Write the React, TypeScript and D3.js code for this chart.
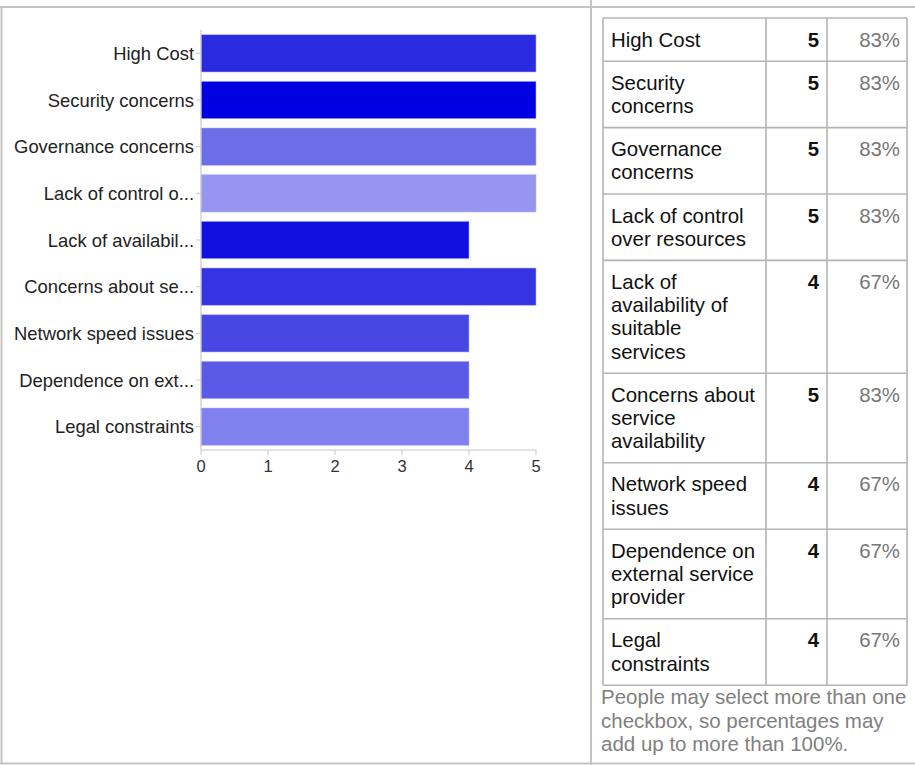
import React from "react";
import * as d3 from "d3";

// Survey answers (chart labels are truncated like the original widget does)
const chartLabels = [
	"High Cost",
	"Security concerns",
	"Governance concerns",
	"Lack of control o...",
	"Lack of availabil...",
	"Concerns about se...",
	"Network speed issues",
	"Dependence on ext...",
	"Legal constraints",
];

const counts = [5, 5, 5, 5, 4, 5, 4, 4, 4];
const respondents = 6;

const barColors = [
	"#2a2ae0",
	"#0000e0",
	"#6d6de8",
	"#9696f0",
	"#1010e0",
	"#3434e2",
	"#4747e4",
	"#5a5ae6",
	"#8080ee",
];

// Full labels, wrapped as in the table cells
const tableLabelLines = [
	["High Cost"],
	["Security", "concerns"],
	["Governance", "concerns"],
	["Lack of control", "over resources"],
	["Lack of", "availability of", "suitable", "services"],
	["Concerns about", "service", "availability"],
	["Network speed", "issues"],
	["Dependence on", "external service", "provider"],
	["Legal", "constraints"],
];

const xTicks = [0, 1, 2, 3, 4, 5];

const footnoteLines = [
	"People may select more than one",
	"checkbox, so percentages may",
	"add up to more than 100%.",
];

const W = 915;
const H = 765;
const FONT = "'Liberation Sans', Arial, sans-serif";

const App: React.FC = () => {
	// Bar chart scales
	const x = d3.scaleLinear().domain([0, 5]).range([201, 536]);
	const y = d3
		.scaleBand<string>()
		.domain(chartLabels)
		.range([30, 450])
		.paddingInner(0.2)
		.paddingOuter(0.1);

	// Table layout
	const tableLeft = 603;
	const colNum = 766;
	const colPct = 827;
	const tableRight = 907;
	const lineH = 23.2;
	const rowTops: number[] = [];
	let acc = 18;
	tableLabelLines.forEach((lines) => {
		rowTops.push(acc);
		acc += 20 + lineH * lines.length;
	});
	const tableBottom = acc;

	const gridColor = "#b4b4b4";

	return (
		<svg
			width={W}
			height={H}
			style={{ position: "absolute", left: 0, top: 0, background: "#fff" }}
		>
			{/* outer frame */}
			<line x1={0} x2={W} y1={7} y2={7} stroke="#c4c4c4" strokeWidth={2} />
			<line x1={0} x2={W} y1={763.5} y2={763.5} stroke="#c4c4c4" strokeWidth={2} />
			<line x1={1.5} x2={1.5} y1={7} y2={764} stroke="#c4c4c4" strokeWidth={2} />
			<line x1={591} x2={591} y1={0} y2={H} stroke="#c4c4c4" strokeWidth={2} />

			{/* bars */}
			<g>
				{chartLabels.map((lab, i) => (
					<rect
						key={lab}
						x={x(0)}
						y={y(lab)}
						width={x(counts[i]) - x(0)}
						height={y.bandwidth()}
						fill={barColors[i]}
						stroke="#b8b8ff"
						strokeWidth={0.8}
						strokeOpacity={0.7}
					/>
				))}
			</g>

			{/* y axis */}
			<g fontFamily={FONT} fontSize={18.4} fill="#222">
				<line x1={x(0)} x2={x(0)} y1={30} y2={450} stroke="#c8c8c8" strokeWidth={1.2} />
				{chartLabels.map((lab) => {
					const cy = (y(lab) as number) + y.bandwidth() / 2;
					return (
						<g key={lab}>
							<line x1={196} x2={x(0)} y1={cy} y2={cy} stroke="#c8c8c8" strokeWidth={1} />
							<text x={194} y={cy} textAnchor="end" dominantBaseline="central">
								{lab}
							</text>
						</g>
					);
				})}
			</g>

			{/* x axis */}
			<g fontFamily={FONT} fontSize={16.5} fill="#333">
				<line x1={x(0)} x2={x(5)} y1={450} y2={450} stroke="#c8c8c8" strokeWidth={1.2} />
				{xTicks.map((t) => (
					<g key={t}>
						<line x1={x(t)} x2={x(t)} y1={450} y2={455} stroke="#c8c8c8" strokeWidth={1} />
						<text x={x(t)} y={472} textAnchor="middle">
							{t}
						</text>
					</g>
				))}
			</g>

			{/* table */}
			<g fontFamily={FONT} fontSize={20.4}>
				{rowTops.map((top, i) => (
					<g key={i}>
						{tableLabelLines[i].map((ln, j) => (
							<text key={j} x={611} y={top + 28.5 + j * lineH} fill="#111">
								{ln}
							</text>
						))}
						<text
							x={819}
							y={top + 28.5}
							textAnchor="end"
							fontWeight="bold"
							fill="#111"
						>
							{counts[i]}
						</text>
						<text x={900} y={top + 28.5} textAnchor="end" fill="#777">
							{Math.round((counts[i] / respondents) * 100)}%
						</text>
						<line
							x1={tableLeft}
							x2={tableRight}
							y1={top}
							y2={top}
							stroke={gridColor}
							strokeWidth={1.6}
						/>
					</g>
				))}
				<line
					x1={tableLeft}
					x2={tableRight}
					y1={tableBottom}
					y2={tableBottom}
					stroke={gridColor}
					strokeWidth={1.6}
				/>
				{[tableLeft, colNum, colPct, tableRight].map((cx) => (
					<line
						key={cx}
						x1={cx}
						x2={cx}
						y1={18}
						y2={tableBottom}
						stroke={gridColor}
						strokeWidth={1.6}
					/>
				))}
			</g>

			{/* footnote */}
			<g fontFamily={FONT} fontSize={20.5} fill="#808080">
				{footnoteLines.map((ln, i) => (
					<text key={i} x={601} y={704 + i * 23.7}>
						{ln}
					</text>
				))}
			</g>
		</svg>
	);
};

export default App;
